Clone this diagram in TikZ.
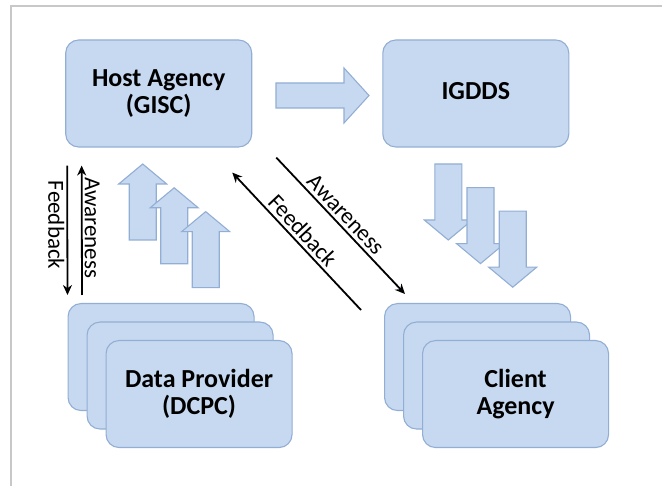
\documentclass[tikz,border=0pt]{standalone}
\usepackage{fontspec}
\setmainfont{Carlito}
\usepackage{xcolor}
\usepackage{tikz}
\usetikzlibrary{calc, positioning, arrows.meta}
\definecolor{boxfill}{RGB}{199,217,240}
\definecolor{boxline}{RGB}{146,174,212}
\definecolor{framegray}{RGB}{200,200,200}
\tikzset{
    agency/.style={rectangle, draw=boxline, line width=1.1pt, fill=boxfill, rounded corners=13pt, minimum width=186pt, minimum height=107pt, align=center, font=\fontsize{26}{27}\selectfont\bfseries},
    blockarrow/.style={draw=boxline, line width=1.1pt, fill=boxfill, line join=miter},
    flow/.style={line width=1.8pt, >={Stealth[length=10pt, width=9pt]}},
    tag/.style={font=\fontsize{23}{24}\selectfont, inner sep=2pt},
    uparrow/.pic={
        \path[blockarrow] (0,0) -- (24,20) -- (13.5,20) -- (13.5,76) -- (-13.5,76) -- (-13.5,20) -- (-24,20) -- cycle;
    }
}

\begin{document}
\begin{tikzpicture}[x=1pt, y=-1pt]
    \useasboundingbox (0,0) rectangle (662,486);
    \draw[framegray, line width=1.3pt] (11,486) -- (11,6) -- (662,6);

    % top row
    \node[agency] (host) at (158.7,93.5) {Host Agency\\(GISC)};
    \node[agency, right=130pt of host, text depth=6pt] (igdds) {IGDDS};
    \path[blockarrow] (276,83) -- (344,83) -- (344,68) -- (369,95.5) -- (344,123) -- (344,108) -- (276,108) -- cycle;

    % stacked providers and clients
    \node[agency, anchor=north west] (dp1) at (67.5,303) {};
    \node[agency, anchor=north west] (dp2) at ($(dp1.north west)+(19,18.5)$) {};
    \node[agency, anchor=north west] (dp3) at ($(dp2.north west)+(19,18.5)$) {Data Provider\\(DCPC)};
    \node[agency, anchor=north west] (cl1) at (384,303) {};
    \node[agency, anchor=north west] (cl2) at ($(cl1.north west)+(19,18.5)$) {};
    \node[agency, anchor=north west] (cl3) at ($(cl2.north west)+(19,18.5)$) {Client\\Agency};

    % data going up, products going down
    \foreach \i in {0,1,2}
        \pic at ({142.7+31.5*\i},{164+23.8*\i}) {uparrow};
    \foreach \i in {0,1,2}
        \pic[rotate=180] at ({448.3+32.2*\i},{240+23.6*\i}) {uparrow};

    % feedback / awareness links
    \draw[flow, ->] ($(host.south west)+(2,18)$) -- ($(dp1.north west)+(0,-8)$)
        node[tag, pos=0.46, rotate=-90, anchor=north] {Feedback};
    \draw[flow, <-] ($(host.south west)+(16.5,18)$) -- ($(dp1.north west)+(14.5,-8)$)
        node[tag, pos=0.48, rotate=-90, anchor=south] {Awareness};
    \draw[flow, ->] ($(cl1.north west)+(-23,7)$) -- ($(host.south east)+(-20,25)$)
        node[tag, pos=0.52, sloped, above=1pt] {Feedback};
    \draw[flow, ->] ($(host.south east)+(24,10)$) -- ($(cl1.north west)+(21,-9)$)
        node[tag, pos=0.475, sloped, above=1pt] {Awareness};
\end{tikzpicture}
\end{document}
